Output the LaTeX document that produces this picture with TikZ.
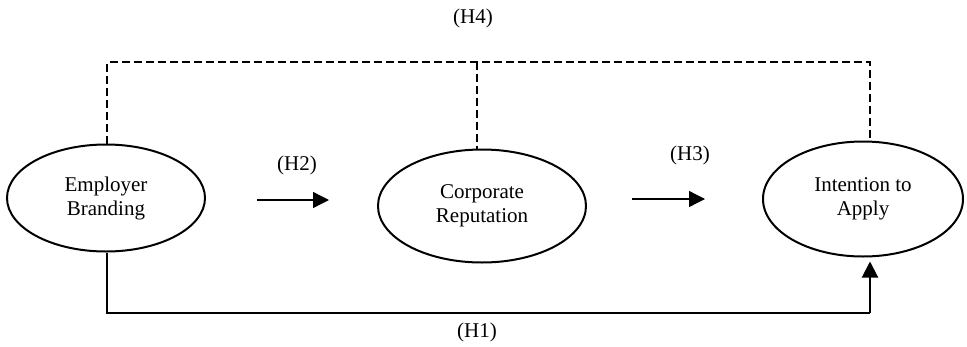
\documentclass[tikz,border=0pt]{standalone}
\usepackage{fontspec}
\setmainfont{Liberation Serif}
\usetikzlibrary{shapes.geometric,arrows.meta,calc}
\begin{document}
\begin{tikzpicture}[x=1pt,y=-1pt,
  construct/.style={draw,ellipse,line width=2pt,inner sep=0pt,align=center,
    font=\fontsize{21}{24}\selectfont},
  lbl/.style={font=\fontsize{21}{24}\selectfont,inner sep=0pt},
  dashlink/.style={line width=2.4pt,dash pattern=on 8pt off 4pt},
  solidlink/.style={line width=2pt},
  arr/.style={line width=1.3pt,-{Triangle[length=16pt,width=16pt]}}]
\useasboundingbox[fill=white] (0,0) rectangle (967,346);
\node[construct,minimum width=198pt,minimum height=107pt] (EB) at (106,198) {Employer\\Branding};
\node[construct,minimum width=208pt,minimum height=113pt] (CR) at (482,206) {Corporate\\Reputation};
\node[construct,minimum width=200pt,minimum height=115pt] (IA) at (863,199) {Intention to\\Apply};
% H4 dashed
\coordinate (tl) at (107,62);
\coordinate (tm) at (477,62);
\coordinate (tr) at (870,62);
\draw[dashlink] (tl |- EB.north) -- (tl) -- (tr) -- (tr |- IA.north);
\draw[dashlink] (tm) -- (tm |- CR.north);
\node[lbl] (H4) at (473,18) {(H4)};
% H1 solid
\coordinate (bl) at (107,313);
\coordinate (br) at (870,313);
\draw[solidlink] (bl |- EB.south) -- (bl) -- (br);
\draw[arr,line width=2pt,shorten >=-1pt] (br) -- ($(br |- IA.south)+(0,5)$);
\node[lbl] (H1) at (477,332) {(H1)};
% H2, H3 arrows
\coordinate (a2s) at (257,200);
\coordinate (a2e) at (329,200);
\draw[arr] (a2s) -- (a2e);
\node[lbl] (H2) at (297,165) {(H2)};
\coordinate (a3s) at (632,199);
\coordinate (a3e) at (705,199);
\draw[arr] (a3s) -- (a3e);
\node[lbl] (H3) at (690,155) {(H3)};
\end{tikzpicture}
\end{document}
